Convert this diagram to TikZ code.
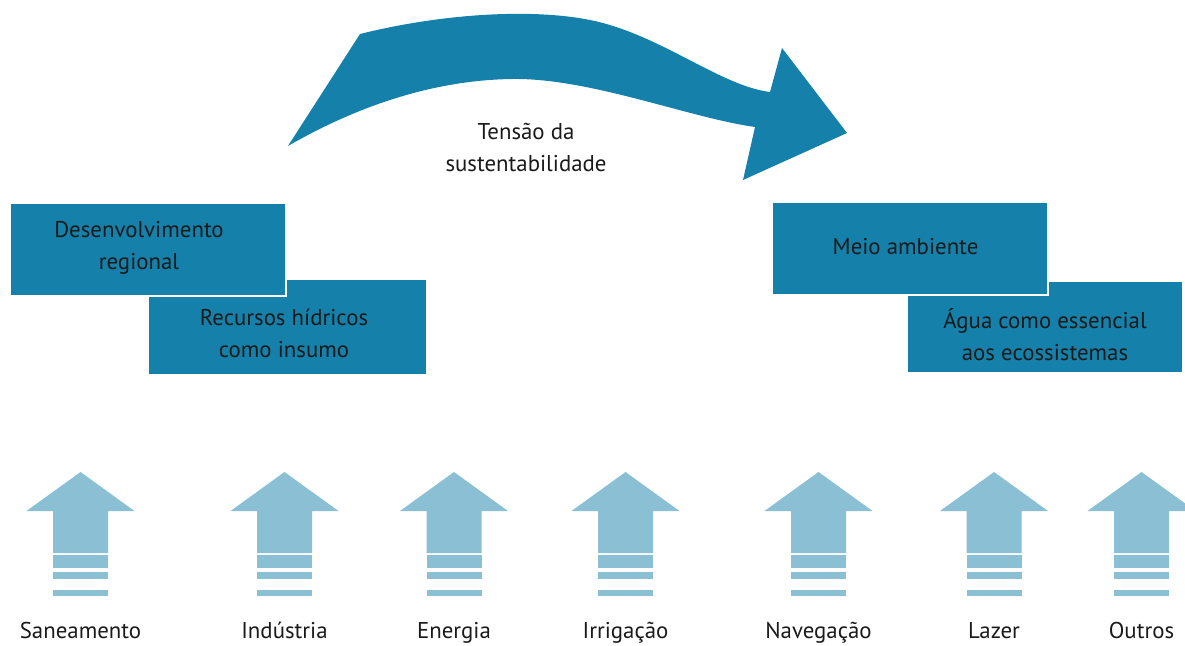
\documentclass[tikz,border=0pt]{standalone}
\usepackage{fontspec}
\setmainfont{PT Sans}
\definecolor{tealbox}{RGB}{21,128,170}
\definecolor{lightarrow}{RGB}{138,191,212}
\definecolor{txtdark}{RGB}{26,26,26}
\tikzset{
  tbox/.style={draw=white,fill=tealbox,line width=0.8pt,inner sep=0pt},
  tlabel/.style={text=txtdark,align=center,inner sep=0pt,font=\fontsize{13}{18.2}\selectfont},
  uparrow/.style={fill=lightarrow},
}
\begin{document}
\begin{tikzpicture}[x=0.02cm,y=-0.02cm]
\pgfmathsetmacro{\kshaft}{27.5}
\pgfmathsetmacro{\khead}{54}
\useasboundingbox (0,0) rectangle (1185,645);
% curved arrow
\fill[tealbox](288,146)--(360,34)..controls(440,14)and(530,8)..(590,20)
  ..controls(660,34)and(720,86)..(770,92)--(782,48)--(847,133)--(743,180)--(755,127)
  ..controls(690,118)and(590,78)..(513,79)..controls(420,80)and(340,116)..(288,146)--cycle;
\node[tlabel](tensao) at (526,147){Tensão da\\sustentabilidade};
% boxes
\node[tbox,minimum width=5.58cm,minimum height=1.92cm](recursos) at (287.5,327){};
\node[tbox,minimum width=5.52cm,minimum height=1.86cm](desenv) at (148,249.5){};
\node[tlabel] (desenvtxt) at (139,247.5){Desenvolvimento\\regional};
\node[tlabel] (recursostxt) at (284,333.5){Recursos hídricos\\como insumo};
\node[tbox,minimum width=5.52cm,minimum height=1.84cm](agua) at (1045,327){};
\node[tbox,minimum width=5.52cm,minimum height=1.86cm](meio) at (910,248.5){};
\node[tlabel] (meiotxt) at (905.5,247){Meio ambiente};
\node[tlabel] (aguatxt) at (1045,334.5){Água como essencial\\aos ecossistemas};
% up arrows
\foreach \kx/\klb in {80.5/Saneamento,284.5/Indústria,454/Energia,625.5/Irrigação,818.5/Navegação,994/Lazer,1141.5/Outros}{
  \fill[uparrow]({\kx-\kshaft},553)--({\kx-\kshaft},511)--({\kx-\khead},511)--(\kx,472)--({\kx+\khead},511)--({\kx+\kshaft},511)--({\kx+\kshaft},553)--cycle;
  \foreach \ka/\kb in {555/568,572/579,590/596}{\fill[uparrow]({\kx-\kshaft},\ka) rectangle ({\kx+\kshaft},\kb);}
  \node[tlabel,anchor=base](lbl-\klb) at (\kx,638){\klb};
}
\end{tikzpicture}
\end{document}
